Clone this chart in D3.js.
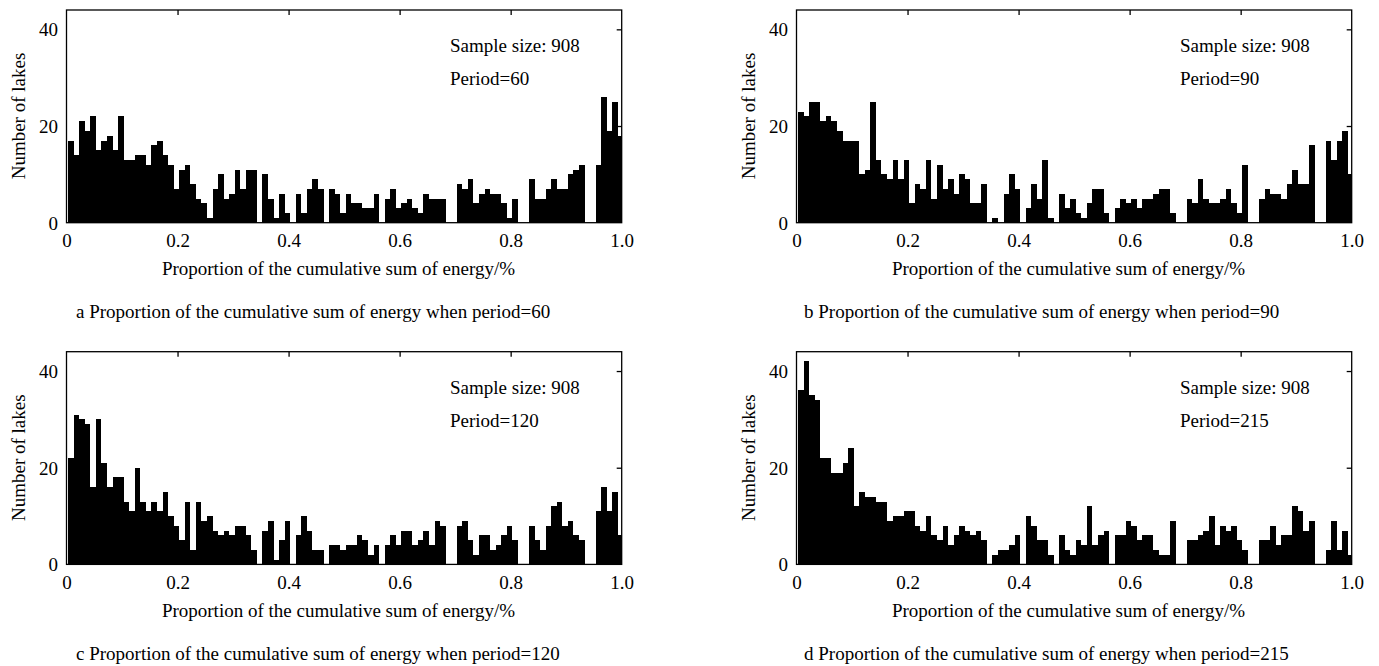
<!DOCTYPE html>
<html><head><meta charset="utf-8">
<script src="https://cdn.jsdelivr.net/npm/d3@7"></script>
<style>
html,body{margin:0;padding:0;background:#fff;}
svg text{font-family:"Liberation Serif","Times New Roman",serif;fill:#000;}
</style></head>
<body><svg id="chart" width="1379" height="666"></svg>
<script>
// ---- data ----
const xTicks = [0, 0.2, 0.4, 0.6, 0.8, 1.0];
const xTickLabels = ["0", "0.2", "0.4", "0.6", "0.8", "1.0"];
const yTicks = [0, 20, 40];
const binStart = 0.003, binWidth = 0.01;

const countsP60 = [17,14,21,19,22,15,17,18,15,22, 13,13,14,14,12,16,17,14,12,7,
  11,12,8,5,4,1,7,10,5,6, 11,7,11,11,0,10,5,1,6,2, 0,6,2,7,9,7,0,7,6,2,
  6,4,4,3,3,6,0,5,7,3, 4,5,3,2,6,5,5,5,0,0, 8,7,9,4,6,7,6,6,4,1,
  5,0,0,9,5,5,7,9,7,7, 10,11,12,0,0,12,26,19,25,18];
const countsP90 = [23,22,25,25,21,22,21,19,17,17, 17,10,11,25,13,10,9,13,9,13,
  4,8,7,13,5,12,7,9,6,10, 9,4,4,8,0,1,0,6,10,7, 0,3,8,5,13,1,0,6,3,5,
  2,1,4,7,7,2,0,3,5,4, 5,3,5,5,6,7,7,2,0,0, 5,4,9,5,4,4,5,7,4,2,
  12,0,0,5,7,6,6,5,8,11, 8,8,16,0,0,17,13,17,19,10];
const countsP120 = [22,31,30,29,16,30,21,16,18,18, 13,11,20,13,11,13,11,15,10,8,
  5,13,3,13,9,10,7,6,7,6, 8,8,6,3,0,7,9,1,5,9, 0,6,10,7,3,3,0,4,4,3,
  4,4,6,5,2,4,0,4,6,4, 7,7,4,5,7,4,9,8,0,0, 8,9,5,2,6,6,3,4,6,8,
  5,0,0,8,5,3,8,12,13,8, 9,6,5,0,0,11,16,11,15,6];
const countsP215 = [36,42,35,34,22,22,19,19,21,24, 12,15,14,14,13,13,9,10,10,11,
  11,8,7,10,6,5,8,4,6,8, 7,6,7,5,0,2,3,3,4,6, 0,10,8,5,5,2,0,6,3,2,
  5,4,12,4,6,7,0,6,6,9, 8,5,6,6,3,2,2,9,0,0, 5,5,6,7,10,4,8,7,8,5,
  3,0,0,5,5,8,4,6,6,12, 11,7,9,0,0,3,9,3,7,2];

const sampleText = "Sample size: 908";
const periodLabels = ["Period=60", "Period=90", "Period=120", "Period=215"];
const captions = [
  "a Proportion of the cumulative sum of energy when period=60",
  "b Proportion of the cumulative sum of energy when period=90",
  "c Proportion of the cumulative sum of energy when period=120",
  "d Proportion of the cumulative sum of energy when period=215"
];
const xLabel = "Proportion of the cumulative sum of energy/%";
const yLabel = "Number of lakes";
const series = [countsP60, countsP90, countsP120, countsP215];

// ---- layout ----
const panels = [
  {x: 66.5, y: 10}, {x: 796.5, y: 10}, {x: 66.5, y: 351.7}, {x: 796.5, y: 351.7}
];
const W = 555.2, H = 212.7, FS = 19;
const svg = d3.select("#chart");

panels.forEach((p, k) => {
  const g = svg.append("g");
  const x = d3.scaleLinear().domain([0, 1]).range([p.x, p.x + W]);
  const y = d3.scaleLinear().domain([0, 44]).range([p.y + H, p.y]);
  const xr = d3.scaleLinear().domain([0, 1]).rangeRound([p.x, p.x + W]);
  const yr = d3.scaleLinear().domain([0, 44]).rangeRound([p.y + H, p.y]);
  const bins = series[k].map((v, i) => {
    const a = binStart + i * binWidth;
    return {x0: a, x1: Math.min(a + binWidth, 1), v};
  });
  g.selectAll("rect.bar").data(bins.filter(d => d.v > 0)).enter().append("rect")
    .attr("class", "bar")
    .attr("x", d => xr(d.x0))
    .attr("width", d => xr(d.x1) - xr(d.x0))
    .attr("y", d => yr(d.v))
    .attr("height", d => yr(0) - yr(d.v))
    .attr("fill", "#000")
    .attr("shape-rendering", "crispEdges");

  // frame
  g.append("rect").attr("x", p.x).attr("y", p.y).attr("width", W).attr("height", H)
    .attr("fill", "none").attr("stroke", "#000").attr("stroke-width", 1.3);

  // top inward ticks
  const topAxis = d3.axisTop(x).tickValues(xTicks.slice(1, -1)).tickSizeInner(-5).tickSizeOuter(0).tickFormat("");
  g.append("g").attr("transform", `translate(0,${p.y})`).call(topAxis)
    .call(s => s.select(".domain").remove())
    .selectAll("line").attr("stroke-width", 1.3);
  // right inward ticks
  const rightAxis = d3.axisRight(y).tickValues(yTicks.slice(1)).tickSizeInner(-5).tickSizeOuter(0).tickFormat("");
  g.append("g").attr("transform", `translate(${p.x + W},0)`).call(rightAxis)
    .call(s => s.select(".domain").remove())
    .selectAll("line").attr("stroke-width", 1.3);

  // bottom labels
  const bottomAxis = d3.axisBottom(x).tickValues(xTicks).tickSize(0).tickPadding(0)
    .tickFormat((d, i) => xTickLabels[i]);
  const bx = g.append("g").attr("transform", `translate(0,${p.y + H})`).call(bottomAxis);
  bx.select(".domain").remove();
  bx.selectAll("text").attr("y", 24.8).attr("dy", 0).attr("font-size", FS)
    .attr("font-family", '"Liberation Serif", serif');

  // left labels
  const leftAxis = d3.axisLeft(y).tickValues(yTicks).tickSize(0).tickPadding(0);
  const lx = g.append("g").attr("transform", `translate(${p.x - 8.5},0)`).call(leftAxis);
  lx.select(".domain").remove();
  lx.selectAll("text").attr("x", 0).attr("dy", "0.34em").attr("font-size", FS)
    .attr("font-family", '"Liberation Serif", serif');

  // axis titles
  g.append("text").attr("x", p.x + 272).attr("y", p.y + 264.8)
    .attr("text-anchor", "middle").attr("font-size", FS).text(xLabel);
  g.append("text").attr("transform", `translate(${p.x - 41.5},${p.y + 106}) rotate(-90)`)
    .attr("text-anchor", "middle").attr("font-size", FS).text(yLabel);

  // annotations
  g.append("text").attr("x", p.x + 383.5).attr("y", p.y + 42)
    .attr("font-size", FS).text(sampleText);
  g.append("text").attr("x", p.x + 383.5).attr("y", p.y + 75)
    .attr("font-size", FS).text(periodLabels[k]);

  // caption
  g.append("text").attr("x", p.x + (k % 2 === 0 ? 9.5 : 7.5)).attr("y", p.y + 308.3)
    .attr("font-size", FS).text(captions[k]);
});
</script></body></html>
